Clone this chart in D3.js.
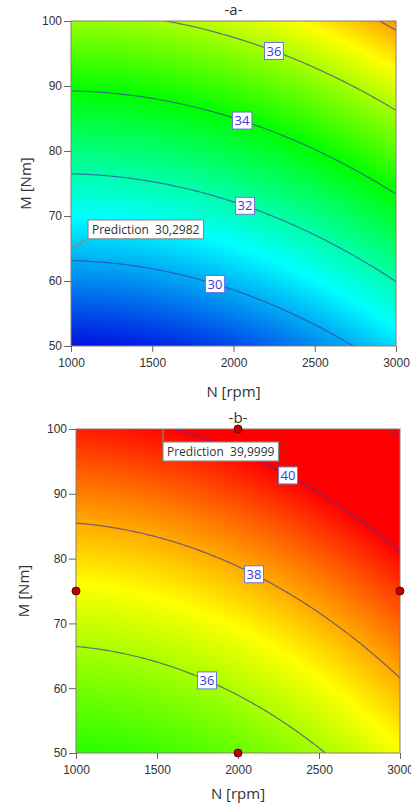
<!DOCTYPE html>
<html>
<head>
<meta charset="utf-8">
<script src="https://cdn.jsdelivr.net/npm/d3@7/dist/d3.min.js"></script>
<style>
  body { margin: 0; background: #fff; }
  svg text { font-family: "Liberation Sans", Arial, sans-serif; }
  .tick text { fill: #333; font-size: 12px; }
  .tick line { stroke: #666; }
  .axis-title { font-family: "Open Sans", "Noto Sans", sans-serif !important; font-size: 15px; fill: #333; }
  .plot-title { font-family: "Open Sans", "Noto Sans", sans-serif !important; font-size: 15px; fill: #333; }
  .clabel { font-family: "Open Sans", "Noto Sans", sans-serif !important; font-size: 13px; fill: #3a3ae0; }
  .pred { font-family: "Open Sans", "Noto Sans", sans-serif !important; font-size: 12px; fill: #333; white-space: pre; }
</style>
</head>
<body>
<svg id="chart" width="411" height="804"></svg>
<script>
// response surface models in coded units n=(N-2000)/1000, m=(M-75)/25
// terms: intercept, N, M, N*M, N^2, M^2
const coefA = [32.43, 1.237, 3.818, 0.005, 0.578, 0.168];
const coefB = [37.60, 1.24, 2.615, 0.005, 0.51, 0.2];

const levelsA = [30, 32, 34, 36, 38];
const labelNA = [1886, 2071, 2052, 2249, null];
const levelsB = [36, 38, 40, 42];
const labelNB = [1809, 2099, 2309, null];

const nTicks = [1000, 1500, 2000, 2500, 3000];
const mTicks = [50, 60, 70, 80, 90, 100];

const predPointA = [1000, 65.1];
const predTextA = "Prediction  30,2982";
const predPointB = [1537, 100];
const predTextB = "Prediction  39,9999";

const designN = [2000, 1000, 3000, 2000];
const designM = [100, 75, 75, 50];

const colorStops = [28, 31, 34, 37, 40];
const colorRange = ["#0008e0", "#00ffff", "#00ff00", "#ffff00", "#ff0000"];

const color = d3.scaleLinear().domain(colorStops).range(colorRange).clamp(true);
const svg = d3.select("#chart");

function drawPlot(cfg) {
    const g = svg.append("g");
    const x = d3.scaleLinear().domain([1000, 3000]).range([cfg.left, cfg.right]);
    const y = d3.scaleLinear().domain([50, 100]).range([cfg.bottom, cfg.top]);
    const c = cfg.coef;
    const f = (N, M) => {
        const n = (N - 2000) / 1000, m = (M - 75) / 25;
        return c[0] + c[1] * n + c[2] * m + c[3] * n * m + c[4] * n * n + c[5] * m * m;
    };

    // colour field, painted on a canvas and put in as an image
    const w = Math.round(cfg.right - cfg.left), h = Math.round(cfg.bottom - cfg.top);
    const canvas = document.createElement("canvas");
    canvas.width = w; canvas.height = h;
    const ctx = canvas.getContext("2d");
    const img = ctx.createImageData(w, h);
    for (let j = 0; j < h; j++) {
        for (let i = 0; i < w; i++) {
            const col = d3.rgb(color(f(x.invert(cfg.left + i + 0.5), y.invert(cfg.top + j + 0.5))));
            const k = (j * w + i) * 4;
            img.data[k] = col.r; img.data[k + 1] = col.g; img.data[k + 2] = col.b; img.data[k + 3] = 255;
        }
    }
    ctx.putImageData(img, 0, 0);
    g.append("image")
        .attr("x", cfg.left).attr("y", cfg.top)
        .attr("width", w).attr("height", h)
        .attr("preserveAspectRatio", "none")
        .attr("href", canvas.toDataURL());

    // contour lines
    const pad = 3, stepN = 20, stepM = 0.5;
    const nx = 100 + 2 * pad + 1, ny = 100 + 2 * pad + 1;
    const values = new Array(nx * ny);
    for (let j = 0; j < ny; j++)
        for (let i = 0; i < nx; i++)
            values[j * nx + i] = f(1000 + (i - pad) * stepN, 50 + (j - pad) * stepM);
    const contours = d3.contours().size([nx, ny]).thresholds(cfg.levels)(values);
    const proj = d3.geoTransform({
        point: function(px, py) {
            this.stream.point(x(1000 + (px - 0.5 - pad) * stepN), y(50 + (py - 0.5 - pad) * stepM));
        }
    });
    const clipId = "clip-" + cfg.name;
    g.append("clipPath").attr("id", clipId)
        .append("rect")
        .attr("x", cfg.left).attr("y", cfg.top)
        .attr("width", cfg.right - cfg.left).attr("height", cfg.bottom - cfg.top);
    g.append("g")
        .attr("clip-path", "url(#" + clipId + ")")
        .selectAll("path")
        .data(contours)
        .join("path")
            .attr("d", d3.geoPath(proj))
            .attr("fill", "none")
            .attr("stroke", "#3c3ca0")
            .attr("stroke-opacity", 0.7)
            .attr("stroke-width", 1.2);

    // frame
    g.append("rect")
        .attr("x", cfg.left).attr("y", cfg.top)
        .attr("width", cfg.right - cfg.left).attr("height", cfg.bottom - cfg.top)
        .attr("fill", "none")
        .attr("stroke", "#8c7c70");

    // axes
    const ax = g.append("g")
        .attr("transform", "translate(0," + cfg.bottom + ")")
        .call(d3.axisBottom(x).tickValues(nTicks).tickFormat(d3.format("d")).tickSize(6).tickPadding(6).tickSizeOuter(0));
    ax.select(".domain").remove();
    const ay = g.append("g")
        .attr("transform", "translate(" + cfg.left + ",0)")
        .call(d3.axisLeft(y).tickValues(mTicks).tickFormat(d3.format("d")).tickSize(7).tickPadding(2).tickSizeOuter(0));
    ay.select(".domain").remove();
    g.selectAll(".tick text").attr("font-family", null);

    g.append("text").attr("class", "axis-title")
        .attr("x", (cfg.left + cfg.right) / 2).attr("y", cfg.xTitleY)
        .attr("text-anchor", "middle").text("N [rpm]");
    g.append("text").attr("class", "axis-title")
        .attr("transform", "translate(" + cfg.yTitleX + "," + (cfg.top + cfg.bottom) / 2 + ") rotate(-90)")
        .attr("text-anchor", "middle").text("M [Nm]");
    g.append("text").attr("class", "plot-title")
        .attr("x", (cfg.left + cfg.right) / 2).attr("y", cfg.titleY)
        .attr("text-anchor", "middle").text(cfg.title);

    // contour labels, placed on the line at the given N
    cfg.levels.forEach((lev, idx) => {
        const N = cfg.labelN[idx];
        if (N == null) return;
        const n = (N - 2000) / 1000;
        const a2 = c[5], a1 = c[2] + c[3] * n, a0 = c[0] + c[1] * n + c[4] * n * n - lev;
        const m = (-a1 + Math.sqrt(a1 * a1 - 4 * a2 * a0)) / (2 * a2);
        const px = x(N), py = y(75 + 25 * m);
        const lg = g.append("g");
        const r = lg.append("rect");
        const t = lg.append("text").attr("class", "clabel")
            .attr("x", px).attr("y", py).attr("dy", "0.36em")
            .attr("text-anchor", "middle").text(lev);
        const bb = t.node().getBBox();
        r.attr("x", bb.x - 2).attr("y", py - 8.5)
            .attr("width", bb.width + 4).attr("height", 17)
            .attr("fill", "#fff").attr("stroke", "#6a78d8");
    });

    // design points
    if (cfg.design) {
        g.selectAll("circle.design")
            .data(designN.map((d, i) => [d, designM[i]]))
            .join("circle")
                .attr("class", "design")
                .attr("cx", d => x(d[0])).attr("cy", d => y(d[1]))
                .attr("r", 4)
                .attr("fill", "#c00000")
                .attr("stroke", "#6a0000");
    }

    // prediction flag
    const p0x = x(cfg.predPoint[0]), p0y = y(cfg.predPoint[1]);
    g.append("line")
        .attr("x1", p0x).attr("y1", p0y)
        .attr("x2", p0x + cfg.predLink[0]).attr("y2", p0y + cfg.predLink[1])
        .attr("stroke", "#8a8a8a").attr("stroke-width", 1.2);
    const bx = p0x + cfg.predBox[0], by = p0y + cfg.predBox[1];
    const pr = g.append("rect");
    const pt = g.append("text").attr("class", "pred")
        .attr("x", bx + 4).attr("y", by + 14).text(cfg.predText);
    const pbb = pt.node().getBBox();
    pr.attr("x", bx).attr("y", by)
        .attr("width", pbb.width + 8).attr("height", 19)
        .attr("fill", "#fff").attr("stroke", "#8a8a8a").attr("stroke-width", 1.2);
}

drawPlot({
    name: "a", title: "-a-", coef: coefA, levels: levelsA, labelN: labelNA,
    left: 71, right: 396, top: 21, bottom: 346,
    titleY: 15, xTitleY: 397, yTitleX: 31,
    predPoint: predPointA, predText: predTextA, predLink: [17, -9], predBox: [17, -28],
    design: false
});

drawPlot({
    name: "b", title: "-b-", coef: coefB, levels: levelsB, labelN: labelNB,
    left: 76, right: 400, top: 429, bottom: 753,
    titleY: 423, xTitleY: 799, yTitleX: 29,
    predPoint: predPointB, predText: predTextB, predLink: [0, 13], predBox: [0, 13],
    design: true
});
</script>
</body>
</html>
